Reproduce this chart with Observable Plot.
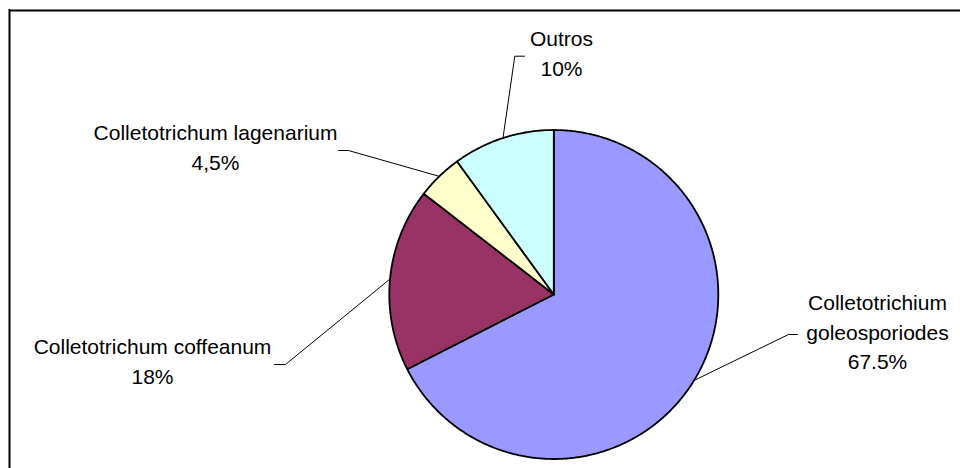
<!DOCTYPE html>
<html>
<head>
<meta charset="utf-8">
<script src="https://cdn.jsdelivr.net/npm/d3@7"></script>
<script src="https://cdn.jsdelivr.net/npm/@observablehq/plot@0.6"></script>
<style>
  html, body { margin: 0; padding: 0; background: #fff; overflow: hidden; }
  #chart svg { display: block; font-family: "Liberation Sans", Arial, sans-serif; }
</style>
</head>
<body>
<div id="chart"></div>
<script>
// ---- data ----
const categories = ["Colletotrichium goleosporiodes", "Colletotrichum coffeanum", "Colletotrichum lagenarium", "Outros"];
const values = [67.5, 18, 4.5, 10];
const valueLabels = ["67.5%", "18%", "4,5%", "10%"];
const nameLines = [["Colletotrichium", "goleosporiodes"], ["Colletotrichum coffeanum"], ["Colletotrichum lagenarium"], ["Outros"]];

// ---- styles / layout (pixels) ----
const colors = ["#9999FF", "#993366", "#FFFFCC", "#CCFFFF"];
const W = 960, H = 468;
const center = [553.3, 294], radius = 164.5;
const leaderElbow = [[788, 334], [285, 364], [348, 150], [514.3, 55.7]];
const leaderEnd = [[797, 334], [274, 364], [338, 150], [524, 55.7]];
const labelAnchor = [[877, 289], [152, 333], [215, 119], [561, 25]];

// ---- build geometry from values ----
const total = d3.sum(values);
let acc = 0;
const slices = values.map((v, i) => {
  const a0 = acc / total * 360;
  acc += v;
  const a1 = acc / total * 360;
  return {name: categories[i], a0, a1, mid: (a0 + a1) / 2};
});
const pt = (deg, r) => {
  const a = deg * Math.PI / 180;
  return [center[0] + r * Math.sin(a), center[1] - r * Math.cos(a)];
};
const slicePts = [];
slices.forEach(s => {
  slicePts.push({name: s.name, x: center[0], y: center[1]});
  const n = Math.max(2, Math.ceil((s.a1 - s.a0) / 0.5));
  for (let k = 0; k <= n; k++) {
    const [x, y] = pt(s.a0 + (s.a1 - s.a0) * k / n, radius);
    slicePts.push({name: s.name, x, y});
  }
  slicePts.push({name: s.name, x: center[0], y: center[1]});
});
const leaderPts = [];
slices.forEach((s, i) => {
  const [ex, ey] = pt(s.mid, radius);
  leaderPts.push({name: s.name, x: ex, y: ey});
  leaderPts.push({name: s.name, x: leaderElbow[i][0], y: leaderElbow[i][1]});
  leaderPts.push({name: s.name, x: leaderEnd[i][0], y: leaderEnd[i][1]});
});
const labels = slices.map((s, i) => ({
  name: s.name,
  x: labelAnchor[i][0],
  y: labelAnchor[i][1],
  text: nameLines[i].concat([valueLabels[i]]).join("\n")
}));

const chart = Plot.plot({
  width: W,
  height: H,
  margin: 0,
  x: {domain: [0, W], range: [0, W], axis: null},
  y: {domain: [0, H], range: [0, H], axis: null},
  color: {domain: categories, range: colors},
  style: {fontFamily: "'Liberation Sans', Arial, sans-serif", background: "white"},
  marks: [
    Plot.ruleY([10], {x1: 9, x2: W, stroke: "black", strokeWidth: 2}),
    Plot.ruleX([9], {y1: 9, y2: H, stroke: "black", strokeWidth: 2}),
    Plot.line(slicePts, {x: "x", y: "y", z: "name", fill: "name", stroke: "black", strokeWidth: 1.8, strokeLinejoin: "round", curve: "linear"}),
    Plot.line(leaderPts, {x: "x", y: "y", z: "name", stroke: "black", strokeWidth: 1, curve: "linear"}),
    Plot.text(labels, {x: "x", y: "y", text: "text", textAnchor: "middle", lineAnchor: "top", lineHeight: 1.4, fontSize: 21, fill: "black"})
  ]
});
document.getElementById("chart").appendChild(chart);
</script>
</body>
</html>
